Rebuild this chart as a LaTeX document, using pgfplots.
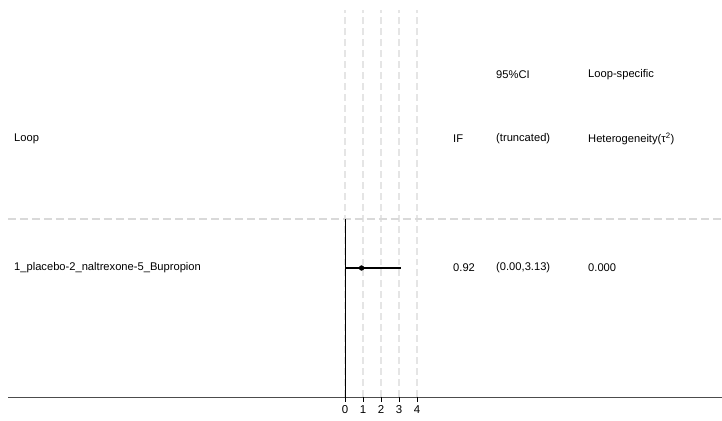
\documentclass[border=0pt]{standalone}
\usepackage{fontspec}
\setmainfont{Liberation Sans}
\usepackage{pgfplots}
\pgfplotsset{compat=1.18}
\tikzset{lbl/.style={anchor=west, inner sep=0pt, font=\fontsize{11.2}{13}\selectfont}}
\begin{document}
\begin{tikzpicture}
\begin{axis}[
  scale only axis, width=722bp, height=421bp,
  xmin=-19.1667, xmax=20.9444, ymin=0, ymax=421,
  hide axis, clip=false,
]
% grid dashed verticals
\foreach \k in {0,1,2,3,4}{
  \edef\tmp{\noexpand\addplot[color=black!10, line width=1.4pt, dash pattern=on 7pt off 4pt, forget plot] coordinates {(\k,24) (\k,411)};}
  \tmp
}
% horizontal dashed separator
\addplot[color=black!15, line width=1.1pt, dash pattern=on 8pt off 4pt] coordinates {(-18.72,202) (20.94,202)};
% bottom axis line
\addplot[color=black!70, line width=0.8pt] coordinates {(-18.72,24) (20.94,24)};
% vertical zero line
\addplot[black, line width=0.8pt] coordinates {(0,24) (0,202)};
% ticks
\foreach \k in {0,1,2,3,4}{
  \edef\tmp{\noexpand\addplot[black, line width=0.6pt, forget plot] coordinates {(\k,24) (\k,19)};}
  \tmp
  \edef\tmp{\noexpand\node[anchor=north, font=\noexpand\fontsize{11.5}{12}\noexpand\selectfont, inner sep=0pt] at (axis cs:\k,15.5) {\k};}
  \tmp
}
% CI and estimate
\addplot[black, line width=1.6pt] coordinates {(0,153) (3.13,153)};
\addplot[only marks, mark=*, mark size=2.4pt, black] coordinates {(0.92,153)};
% header text
\node[lbl] at (axis cs:-18.39,282) {Loop};
\node[lbl] at (axis cs:6.0,282) {IF};
\node[lbl] at (axis cs:8.39,282) {(truncated)};
\node[lbl] at (axis cs:8.39,346) {95\%CI};
\node[lbl] at (axis cs:13.5,346) {Loop-specific};
\node[lbl] at (axis cs:13.5,282) {Heterogeneity(τ\textsuperscript{2})};
% row text
\node[lbl] at (axis cs:-18.39,153) {1\_placebo-2\_naltrexone-5\_Bupropion};
\node[lbl] at (axis cs:6.0,153) {0.92};
\node[lbl] at (axis cs:8.39,153) {(0.00,3.13)};
\node[lbl] at (axis cs:13.5,153) {0.000};
\end{axis}
\pgfresetboundingbox
\path[use as bounding box] (current axis.south west) rectangle (current axis.north east);
\end{tikzpicture}
\end{document}
